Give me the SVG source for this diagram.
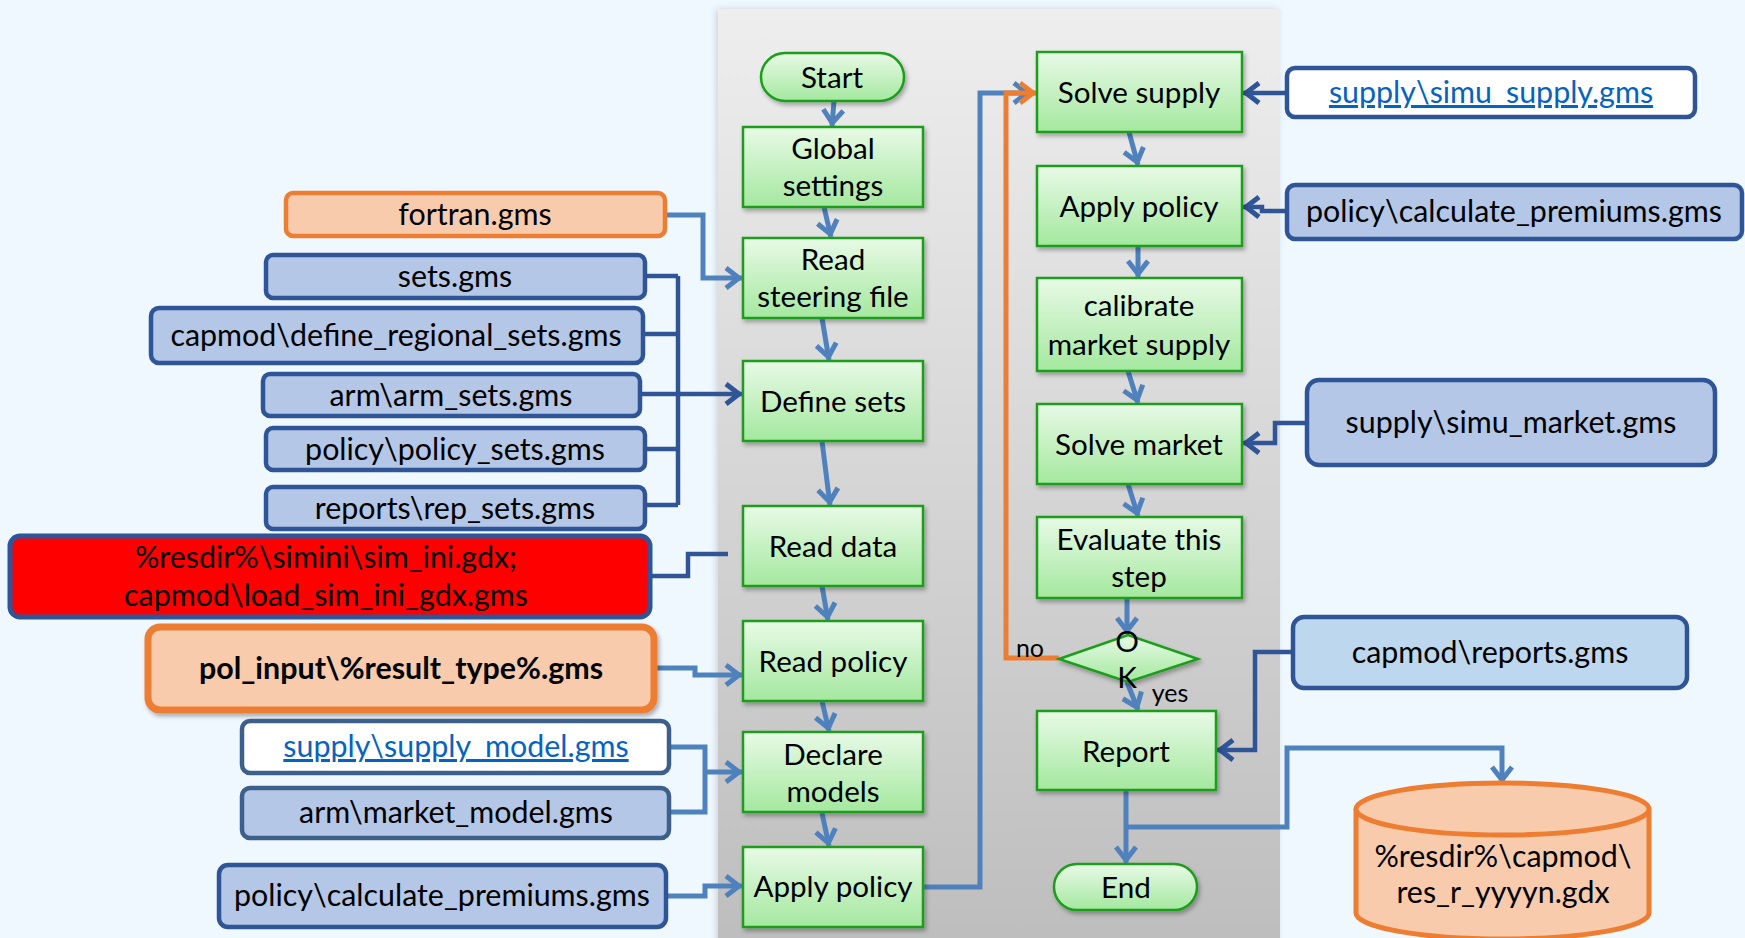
<svg xmlns="http://www.w3.org/2000/svg" width="1745" height="938" viewBox="0 0 1745 938">
<defs>
<linearGradient id="panel" x1="0" y1="0" x2="0" y2="1"><stop offset="0" stop-color="#EEEEEE"/><stop offset="1" stop-color="#BDBDBD"/></linearGradient>
<linearGradient id="grn" x1="0" y1="0" x2="0" y2="1"><stop offset="0" stop-color="#E8FAE6"/><stop offset="1" stop-color="#A4E89F"/></linearGradient>
<filter id="sh" x="-10%" y="-10%" width="130%" height="140%"><feDropShadow dx="2" dy="3" stdDeviation="2" flood-color="#000" flood-opacity="0.3"/></filter>
<filter id="psh" x="-5%" y="-5%" width="110%" height="110%"><feDropShadow dx="-2" dy="0" stdDeviation="3" flood-color="#000" flood-opacity="0.15"/></filter>
<marker id="mb" viewBox="-16 -12 20 24" refX="3" refY="0" markerWidth="20" markerHeight="24" markerUnits="userSpaceOnUse" orient="auto" overflow="visible"><path d="M-13,-10 L0,0 L-13,10" fill="none" stroke="#4F81BD" stroke-width="5"/></marker>
<marker id="md" viewBox="-16 -12 20 24" refX="3" refY="0" markerWidth="20" markerHeight="24" markerUnits="userSpaceOnUse" orient="auto" overflow="visible"><path d="M-13,-10 L0,0 L-13,10" fill="none" stroke="#2F5597" stroke-width="5"/></marker>
<marker id="mo" viewBox="-16 -12 20 24" refX="3" refY="0" markerWidth="20" markerHeight="24" markerUnits="userSpaceOnUse" orient="auto" overflow="visible"><path d="M-13,-10 L0,0 L-13,10" fill="none" stroke="#ED7D31" stroke-width="5"/></marker>
</defs>
<style>
text{font-family:Lato,"Liberation Sans",sans-serif;font-size:29.6px;fill:#000;text-anchor:middle}
.side text{font-size:30.4px}
.flow{fill:url(#grn);stroke:#1A9E1A;stroke-width:2.5;filter:url(#sh)}
.blue{fill:#B4C7E7;stroke:#2F5597;stroke-width:4.5}
.bl2{fill:#B4C7E7;stroke:#3D5F8C;stroke-width:4.5}
.wht{fill:#FFFFFF;stroke:#2F5597;stroke-width:4.5}
.wh2{fill:#FFFFFF;stroke:#3D5F8C;stroke-width:4.5}
.org{fill:#F8CBAD;stroke:#ED7D31;stroke-width:4.5}
.side text.link{fill:#0563C1;text-decoration:underline}
.cb{fill:none;stroke:#4F81BD;stroke-width:5}
.cd{fill:none;stroke:#2F5597;stroke-width:4.5}
.co{fill:none;stroke:#ED7D31;stroke-width:5}
text.sm{font-size:25px}
</style>
<rect x="0" y="0" width="1745" height="938" fill="#F0F8FF"/>
<rect x="718" y="9" width="562" height="945" fill="url(#panel)" filter="url(#psh)"/>

<g id="connectors">
<path class="cb" d="M834,101 L832,126" marker-end="url(#mb)"/>
<path class="cb" d="M824,207 L831,237" marker-end="url(#mb)"/>
<path class="cb" d="M822,318 L829,360" marker-end="url(#mb)"/>
<path class="cb" d="M822,441 L830,505" marker-end="url(#mb)"/>
<path class="cb" d="M822,586 L828,620" marker-end="url(#mb)"/>
<path class="cb" d="M822,701 L829,731" marker-end="url(#mb)"/>
<path class="cb" d="M822,813 L829,846" marker-end="url(#mb)"/>
<path class="cb" d="M1129,132 L1138,165" marker-end="url(#mb)"/>
<path class="cb" d="M1138,247 L1138,277" marker-end="url(#mb)"/>
<path class="cb" d="M1128,371 L1138,403" marker-end="url(#mb)"/>
<path class="cb" d="M1128,484 L1138,516" marker-end="url(#mb)"/>
<path class="cb" d="M1127,598 L1127,634" marker-end="url(#mb)"/>
<path class="cb" d="M1127,682 L1138,710" marker-end="url(#mb)"/>
<path class="cb" d="M1126,790 L1126,863" marker-end="url(#mb)"/>
<path class="cb" d="M1126,827 L1287,827 L1287,748 L1502,748 L1502,783" marker-end="url(#mb)"/>
<path class="cb" d="M923,887 L980,887 L980,93 L1030,93" marker-end="url(#mb)"/>
<path class="co" d="M1059,658 L1006,658 L1006,93 L1036,93" marker-end="url(#mo)"/>
<path class="cb" d="M665,215 L703,215 L703,278 L742,278" marker-end="url(#mb)"/>
<path class="cd" d="M645,276 L678,276 M643,334 L678,334 M640,394 L678,394 M645,449 L678,449 M645,505 L678,505 M678,276 L678,505"/>
<path class="cd" d="M678,394 L742,394" marker-end="url(#md)"/>
<path class="cd" d="M650,576 L688,576 L688,554 L728,554"/>
<path class="cb" d="M654,668 L695,668 L695,675 L742,675" marker-end="url(#mb)"/>
<path class="cb" d="M669,747 L705,747 L705,812 L669,812"/>
<path class="cb" d="M705,772 L742,772" marker-end="url(#mb)"/>
<path class="cb" d="M666,896 L705,896 L705,886 L742,886" marker-end="url(#mb)"/>
<path class="cd" d="M1287,93 L1243,93" marker-end="url(#md)"/>
<path class="cd" d="M1287,211 L1262,211 L1262,207 L1243,207" marker-end="url(#md)"/>
<path class="cd" d="M1307,423 L1275,423 L1275,443 L1243,443" marker-end="url(#md)"/>
<path class="cd" d="M1293,652 L1255,652 L1255,750 L1217,750" marker-end="url(#md)"/>
</g>

<g id="start"><rect class="flow" x="761" y="53" width="143" height="48" rx="24"/><text x="832" y="88">Start</text></g>
<g id="global"><rect class="flow" x="743" y="127" width="180" height="80"/><text x="833" y="159">Global</text><text x="833" y="196">settings</text></g>
<g id="steering"><rect class="flow" x="743" y="238" width="180" height="80"/><text x="833" y="270">Read</text><text x="833" y="307">steering file</text></g>
<g id="definesets"><rect class="flow" x="743" y="361" width="180" height="80"/><text x="833" y="412">Define sets</text></g>
<g id="readdata"><rect class="flow" x="743" y="506" width="180" height="80"/><text x="833" y="557">Read data</text></g>
<g id="readpolicy"><rect class="flow" x="743" y="621" width="180" height="80"/><text x="833" y="672">Read policy</text></g>
<g id="declare"><rect class="flow" x="743" y="732" width="180" height="80"/><text x="833" y="765">Declare</text><text x="833" y="802">models</text></g>
<g id="applypolicy1"><rect class="flow" x="743" y="847" width="180" height="80"/><text x="833" y="897">Apply policy</text></g>

<g id="solvesupply"><rect class="flow" x="1037" y="52" width="205" height="80"/><text x="1139" y="103">Solve supply</text></g>
<g id="applypolicy2"><rect class="flow" x="1037" y="166" width="205" height="80"/><text x="1139" y="217">Apply policy</text></g>
<g id="calibrate"><rect class="flow" x="1037" y="278" width="205" height="93"/><text x="1139" y="316">calibrate</text><text x="1139" y="355">market supply</text></g>
<g id="solvemarket"><rect class="flow" x="1037" y="404" width="205" height="80"/><text x="1139" y="455">Solve market</text></g>
<g id="evaluate"><rect class="flow" x="1037" y="517" width="205" height="81"/><text x="1139" y="550">Evaluate this</text><text x="1139" y="587">step</text></g>
<g id="ok"><polygon class="flow" points="1059,659 1128,635 1198,659 1128,682"/><text x="1127" y="652">O</text><text x="1127" y="688">K</text></g>
<g id="report"><rect class="flow" x="1037" y="711" width="179" height="79"/><text x="1126" y="762">Report</text></g>
<g id="end"><rect class="flow" x="1054" y="864" width="143" height="46" rx="23"/><text x="1126" y="898">End</text></g>
<g id="labels"><text class="sm" x="1030" y="657">no</text><text class="sm" x="1170" y="702">yes</text></g>

<g class="side">
<g id="fortran"><rect class="org" x="286" y="193" width="379" height="43" rx="7"/><text x="475" y="225">fortran.gms</text></g>
<g id="sets"><rect class="blue" x="266" y="255" width="379" height="43" rx="7"/><text x="455" y="287">sets.gms</text></g>
<g id="regsets"><rect class="blue" x="151" y="308" width="492" height="55" rx="8"/><text x="396" y="346">capmod\define_regional_sets.gms</text></g>
<g id="armsets"><rect class="blue" x="263" y="374" width="377" height="42" rx="7"/><text x="451" y="406">arm\arm_sets.gms</text></g>
<g id="policysets"><rect class="blue" x="266" y="428" width="379" height="42" rx="7"/><text x="455" y="460">policy\policy_sets.gms</text></g>
<g id="repsets"><rect class="blue" x="266" y="487" width="379" height="42" rx="7"/><text x="455" y="519">reports\rep_sets.gms</text></g>
<g id="siminigdx"><rect x="10" y="536" width="640" height="81" rx="10" fill="#FF0000" stroke="#2F5597" stroke-width="5"/><text x="326" y="568">%resdir%\simini\sim_ini.gdx;</text><text x="326" y="606">capmod\load_sim_ini_gdx.gms</text></g>
<g id="polinput"><rect x="148" y="627" width="506" height="83" rx="12" fill="#F8CBAD" stroke="#ED7D31" stroke-width="7" filter="url(#sh)"/><text x="401" y="679" font-weight="bold">pol_input\%result_type%.gms</text></g>
<g id="supplymodel"><rect class="wh2" x="242" y="721" width="427" height="52" rx="8"/><text class="link" x="456" y="757">supply\supply_model.gms</text></g>
<g id="marketmodel"><rect class="bl2" x="242" y="788" width="427" height="50" rx="8"/><text x="456" y="823">arm\market_model.gms</text></g>
<g id="calcprem1"><rect class="blue" x="219" y="865" width="447" height="62" rx="9"/><text x="442" y="906">policy\calculate_premiums.gms</text></g>

<g id="simusupply"><rect class="wht" x="1287" y="68" width="408" height="49" rx="8"/><text class="link" x="1491" y="103">supply\simu_supply.gms</text></g>
<g id="calcprem2"><rect class="blue" x="1287" y="185" width="455" height="54" rx="8"/><text x="1514" y="222">policy\calculate_premiums.gms</text></g>
<g id="simumarket"><rect class="blue" x="1307" y="380" width="408" height="85" rx="12"/><text x="1511" y="433">supply\simu_market.gms</text></g>
<g id="reports"><rect x="1293" y="617" width="394" height="71" rx="11" fill="#BDD7EE" stroke="#2F5597" stroke-width="4.5"/><text x="1490" y="663">capmod\reports.gms</text></g>
<g id="resgdx"><path d="M1356,809 L1356,913 A146.5,26 0 0 0 1649,913 L1649,809" fill="#F8CBAD" stroke="#ED7D31" stroke-width="5"/><ellipse cx="1502.5" cy="809" rx="146.5" ry="26" fill="#F8CBAD" stroke="#ED7D31" stroke-width="5"/><text x="1503" y="867">%resdir%\capmod\</text><text x="1503" y="903">res_r_yyyyn.gdx</text></g>
</g>
</svg>
